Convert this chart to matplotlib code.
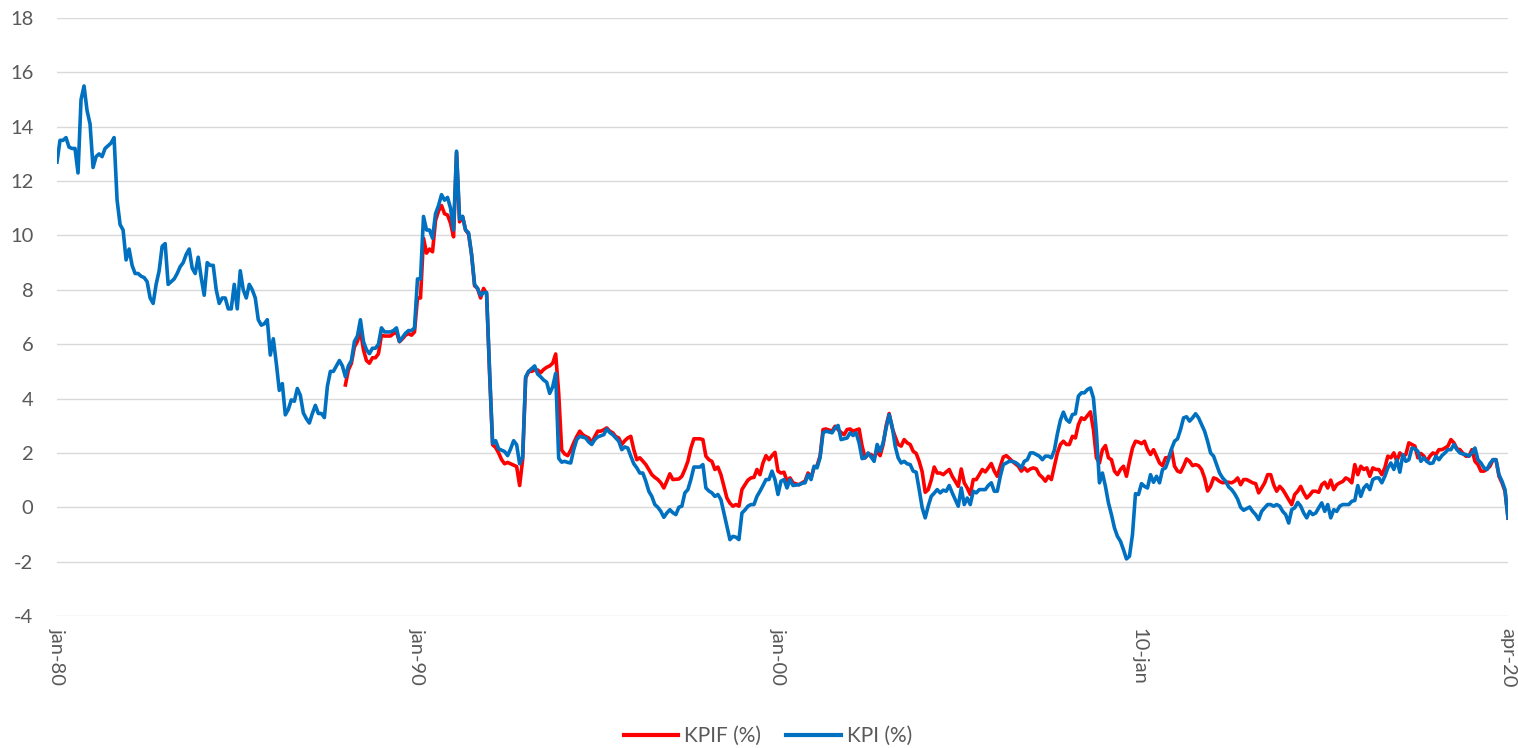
import numpy as np
import matplotlib.pyplot as plt

# monthly annual inflation, jan 1980 - apr 2020 (one row per year)
kpi = [
    12.7, 13.5, 13.5, 13.6, 13.25, 13.2, 13.2, 12.3, 15.0, 15.5, 14.6, 14.1,   # 1980
    12.5, 12.9, 13.0, 12.9, 13.2, 13.3, 13.4, 13.6, 11.3, 10.4, 10.2, 9.1,     # 1981
    9.5, 8.9, 8.6, 8.6, 8.5, 8.45, 8.3, 7.7, 7.5, 8.2, 8.7, 9.6,                # 1982
    9.7, 8.2, 8.3, 8.4, 8.6, 8.85, 9.0, 9.3, 9.5, 8.8, 8.6, 9.2,                # 1983
    8.45, 7.8, 9.0, 8.9, 8.9, 8.0, 7.5, 7.7, 7.7, 7.3, 7.3, 8.2,                # 1984
    7.3, 8.7, 8.0, 7.7, 8.2, 8.0, 7.7, 6.9, 6.7, 6.75, 6.9, 5.6,                # 1985
    6.2, 5.3, 4.3, 4.55, 3.4, 3.6, 3.95, 3.9, 4.37, 4.12, 3.47, 3.26,          # 1986
    3.1, 3.45, 3.75, 3.45, 3.45, 3.3, 4.45, 5.0, 5.0, 5.2, 5.4, 5.2,            # 1987
    4.8, 5.2, 5.4, 6.1, 6.3, 6.9, 6.1, 5.8, 5.65, 5.85, 5.85, 6.0,             # 1988
    6.6, 6.45, 6.45, 6.45, 6.5, 6.6, 6.1, 6.25, 6.4, 6.5, 6.5, 6.6,            # 1989
    8.4, 8.4, 10.7, 10.2, 10.2, 9.9, 10.8, 11.1, 11.5, 11.3, 11.4, 11.0,       # 1990
    10.2, 13.1, 10.6, 10.7, 10.2, 10.1, 9.3, 8.2, 8.05, 7.8, 7.9, 7.9,         # 1991
    5.0, 2.35, 2.45, 2.15, 2.1, 2.05, 1.9, 2.15, 2.45, 2.3, 1.6, 1.85,         # 1992
    4.8, 5.0, 5.1, 5.2, 4.9, 4.8, 4.68, 4.6, 4.19, 4.43, 4.93, 1.8,            # 1993
    1.66, 1.69, 1.65, 1.63, 2.12, 2.49, 2.61, 2.58, 2.55, 2.4, 2.31, 2.49,     # 1994
    2.59, 2.63, 2.67, 2.88, 2.75, 2.67, 2.55, 2.43, 2.12, 2.22, 2.18, 1.88,    # 1995
    1.6, 1.45, 1.26, 1.26, 0.96, 0.59, 0.4, 0.1, 0.0, -0.15, -0.37, -0.21,     # 1996
    -0.09, -0.2, -0.27, 0.0, 0.04, 0.53, 0.65, 1.02, 1.48, 1.48, 1.48, 1.57,   # 1997
    0.71, 0.6, 0.53, 0.4, 0.47, 0.28, -0.21, -0.7, -1.19, -1.07, -1.1, -1.19,  # 1998
    -0.21, -0.1, 0.04, 0.1, 0.1, 0.4, 0.59, 0.8, 1.02, 1.02, 1.33, 1.02,       # 1999
    0.47, 0.96, 1.02, 0.71, 1.02, 0.8, 0.82, 0.83, 0.88, 0.9, 1.2, 1.02,       # 2000
    1.51, 1.45, 1.82, 2.74, 2.8, 2.77, 2.74, 2.92, 3.01, 2.49, 2.52, 2.55,     # 2001
    2.74, 2.64, 2.74, 2.37, 1.79, 1.82, 2.0, 1.85, 1.69, 2.31, 2.06, 2.37,     # 2002
    2.92, 3.41, 2.98, 2.25, 1.82, 1.63, 1.69, 1.6, 1.57, 1.33, 1.29, 0.65,     # 2003
    -0.02, -0.39, 0.04, 0.4, 0.52, 0.65, 0.53, 0.63, 0.59, 0.8, 0.53, 0.28,    # 2004
    0.04, 0.71, 0.1, 0.34, 0.1, 0.59, 0.53, 0.65, 0.65, 0.65, 0.8, 0.9,        # 2005
    0.59, 0.59, 1.14, 1.57, 1.63, 1.69, 1.69, 1.65, 1.57, 1.45, 1.69, 1.75,    # 2006
    2.0, 2.0, 1.94, 1.88, 1.75, 1.88, 1.88, 1.82, 2.1, 2.7, 3.2, 3.5,          # 2007
    3.23, 3.13, 3.41, 3.44, 4.09, 4.21, 4.21, 4.33, 4.39, 4.02, 2.74, 0.9,     # 2008
    1.26, 0.77, 0.16, -0.27, -0.76, -1.07, -1.25, -1.56, -1.9, -1.8, -1.0, 0.5,  # 2009
    0.47, 0.87, 0.77, 0.71, 1.2, 0.92, 1.14, 0.9, 1.39, 1.45, 1.75, 2.15,      # 2010
    2.43, 2.52, 2.86, 3.29, 3.33, 3.17, 3.29, 3.44, 3.29, 3.04, 2.8, 2.43,     # 2011
    2.0, 1.88, 1.57, 1.26, 1.08, 0.96, 0.75, 0.65, 0.5, 0.3, 0.0, -0.11,       # 2012
    -0.05, 0.01, -0.15, -0.27, -0.45, -0.15, -0.02, 0.1, 0.1, 0.04, 0.1, 0.04,  # 2013
    -0.15, -0.27, -0.58, -0.09, -0.02, 0.18, 0.04, -0.21, -0.39, -0.15, -0.27, -0.21,  # 2014
    -0.02, 0.16, -0.15, 0.1, -0.39, -0.09, -0.15, 0.04, 0.1, 0.1, 0.1, 0.22,   # 2015
    0.25, 0.8, 0.4, 0.71, 0.83, 0.65, 1.02, 1.08, 1.08, 0.9, 1.14, 1.45,       # 2016
    1.63, 1.39, 1.75, 1.29, 1.94, 1.69, 1.75, 2.18, 2.15, 2.06, 1.69, 1.82,    # 2017
    1.69, 1.61, 1.63, 1.88, 1.75, 1.9, 2.0, 2.12, 2.12, 2.31, 2.12, 2.0,       # 2018
    1.96, 1.94, 1.88, 2.0, 2.18, 1.75, 1.63, 1.45, 1.39, 1.61, 1.75, 1.75,     # 2019
    1.2, 0.96, 0.65, -0.39,                                                    # 2020
]

# KPIF starts jan 1988
kpif_start = 96
kpif = [
    4.5, 5.05, 5.3, 5.9, 6.1, 6.5, 5.8, 5.4, 5.3, 5.5, 5.5, 5.65,              # 1988
    6.33, 6.3, 6.3, 6.3, 6.39, 6.45, 6.09, 6.2, 6.33, 6.39, 6.33, 6.45,        # 1989
    7.7, 7.7, 9.9, 9.35, 9.5, 9.4, 10.55, 10.9, 11.1, 10.8, 10.75, 10.45,      # 1990
    9.95, 13.05, 10.5, 10.7, 10.2, 10.05, 9.3, 8.15, 8.05, 7.7, 8.05, 7.85,    # 1991
    4.9, 2.3, 2.2, 2.0, 1.75, 1.6, 1.65, 1.6, 1.55, 1.5, 0.8, 1.75,            # 1992
    4.75, 5.0, 5.0, 5.05, 5.05, 4.95, 5.07, 5.15, 5.2, 5.3, 5.64, 4.2,         # 1993
    2.1, 1.96, 1.9, 2.1, 2.37, 2.6, 2.8, 2.67, 2.6, 2.55, 2.37, 2.6,           # 1994
    2.8, 2.8, 2.85, 2.92, 2.8, 2.74, 2.6, 2.55, 2.31, 2.45, 2.55, 2.61,        # 1995
    2.12, 1.75, 1.82, 1.7, 1.57, 1.39, 1.2, 1.1, 1.02, 0.9, 0.71, 0.96,        # 1996
    1.23, 1.02, 1.03, 1.04, 1.14, 1.39, 1.69, 2.18, 2.52, 2.52, 2.52, 2.49,    # 1997
    1.88, 1.75, 1.69, 1.39, 1.48, 1.2, 0.77, 0.34, 0.15, 0.04, 0.1, 0.04,      # 1998
    0.65, 0.83, 1.0, 1.08, 1.1, 1.39, 1.2, 1.63, 1.9, 1.75, 1.9, 2.02,         # 1999
    1.33, 1.26, 1.29, 0.96, 1.08, 0.9, 0.86, 0.83, 0.9, 0.96, 1.26, 1.08,      # 2000
    1.45, 1.53, 1.88, 2.86, 2.88, 2.84, 2.8, 2.98, 2.86, 2.75, 2.67, 2.86,     # 2001
    2.88, 2.8, 2.84, 2.88, 2.25, 1.82, 1.94, 1.94, 1.82, 2.06, 1.9, 2.31,      # 2002
    3.0, 3.45, 2.92, 2.6, 2.31, 2.25, 2.49, 2.37, 2.31, 2.06, 1.98, 1.69,      # 2003
    1.3, 0.55, 0.65, 1.0, 1.48, 1.26, 1.26, 1.2, 1.3, 1.39, 1.14, 0.96,        # 2004
    0.77, 1.41, 0.9, 0.71, 0.47, 1.02, 1.02, 1.2, 1.39, 1.3, 1.45, 1.61,       # 2005
    1.33, 1.14, 1.51, 1.85, 1.9, 1.8, 1.69, 1.6, 1.51, 1.33, 1.45, 1.33,       # 2006
    1.41, 1.45, 1.41, 1.2, 1.1, 0.96, 1.14, 1.02, 1.51, 2.0, 2.31, 2.43,       # 2007
    2.31, 2.31, 2.61, 2.55, 3.04, 3.29, 3.23, 3.37, 3.51, 2.86, 1.82, 1.63,    # 2008
    2.12, 2.27, 1.82, 1.75, 1.33, 1.2, 1.39, 1.51, 1.14, 1.69, 2.18, 2.43,     # 2009
    2.4, 2.34, 2.43, 2.12, 1.94, 2.12, 1.88, 1.63, 1.53, 1.82, 1.82, 2.12,     # 2010
    1.51, 1.33, 1.29, 1.51, 1.78, 1.69, 1.53, 1.57, 1.53, 1.39, 1.08, 0.6,     # 2011
    0.77, 1.08, 1.04, 0.95, 0.9, 0.92, 0.92, 0.9, 0.96, 1.08, 0.83, 1.02,      # 2012
    1.02, 0.96, 0.9, 0.87, 0.53, 0.71, 0.9, 1.2, 1.2, 0.83, 0.59, 0.77,        # 2013
    0.65, 0.47, 0.28, 0.1, 0.47, 0.59, 0.77, 0.53, 0.34, 0.45, 0.59, 0.59,     # 2014
    0.55, 0.83, 0.92, 0.71, 1.0, 0.65, 0.83, 0.9, 0.95, 1.08, 1.02, 0.9,       # 2015
    1.57, 1.2, 1.51, 1.39, 1.45, 1.14, 1.45, 1.39, 1.39, 1.2, 1.45, 1.88,      # 2016
    1.82, 2.0, 1.69, 2.0, 1.88, 1.94, 2.37, 2.31, 2.25, 1.82, 1.98, 1.88,      # 2017
    1.69, 1.88, 2.0, 1.94, 2.12, 2.12, 2.18, 2.25, 2.49, 2.37, 2.15, 2.12,     # 2018
    1.98, 1.88, 1.88, 2.12, 1.69, 1.57, 1.33, 1.33, 1.4, 1.51, 1.75, 1.75,     # 2019
    1.14, 0.9, 0.59, -0.4,                                                     # 2020
]

tick_pos = [0, 120, 240, 360, 483]
tick_labels = ["jan-80", "jan-90", "jan-00", "10-jan", "apr-20"]

plt.rcParams["font.family"] = ["Lato", "DejaVu Sans"]
plt.rcParams["axes.unicode_minus"] = False

fig = plt.figure(figsize=(15.18, 7.48), dpi=100)
ax = fig.add_axes([57 / 1518, 1 - 616 / 748, (1508 - 57) / 1518, (616 - 18) / 748])

x_kpi = np.arange(len(kpi))
x_kpif = np.arange(kpif_start, kpif_start + len(kpif))

ax.plot(x_kpif, kpif, color="#FF0000", lw=2.6, label="KPIF (%)", solid_joinstyle="round")
ax.plot(x_kpi, kpi, color="#0070C0", lw=2.6, label="KPI (%)", solid_joinstyle="round")

ax.set_xlim(0, len(kpi) - 1)
ax.set_ylim(-4, 18)
ax.set_yticks(np.arange(-4, 19, 2))
ax.grid(axis="y", color="#d9d9d9", lw=1)
ax.set_axisbelow(True)
for s in ax.spines.values():
    s.set_visible(False)

ax.set_xticks(tick_pos)
ax.set_xticklabels(tick_labels, rotation=270, ha="center", va="top")
ax.tick_params(axis="both", length=0, labelsize=14.5, colors="#595959")
ax.tick_params(axis="y", pad=17)
ax.tick_params(axis="x", pad=9)

leg = fig.legend(loc="center", bbox_to_anchor=(768 / 1518, 1 - 736 / 748), ncol=2,
                 frameon=False, fontsize=15, handlelength=2.6, columnspacing=1.2,
                 handletextpad=0.3)
for t in leg.get_texts():
    t.set_color("#595959")
for h in leg.get_lines():
    h.set_linewidth(3)

fig.savefig("out.png", dpi=100)
